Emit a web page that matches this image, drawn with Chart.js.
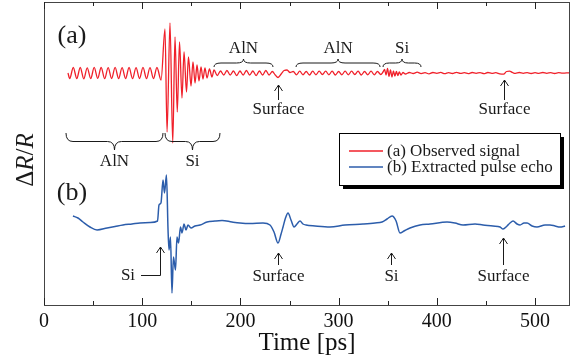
<!DOCTYPE html>
<html>
<head>
<meta charset="utf-8">
<script src="https://cdn.jsdelivr.net/npm/chart.js@4.4.1/dist/chart.umd.min.js"></script>
<style>
  html, body { margin: 0; padding: 0; background: #fff; }
  #wrap { width: 573px; height: 358px; }
</style>
</head>
<body>
<div id="wrap"><canvas id="grafico" width="573" height="358"></canvas></div>
<script>
// ===== DADOS =====
const seriesLabels = ['(a) Observed signal', '(b) Extracted pulse echo'];
const xTicks = [0, 100, 200, 300, 400, 500];

// (a) observed signal, time [ps] / ΔR/R (arb. units, relative to trace baseline)
const timeA = [
    24.4, 26.2, 29.8, 33.4, 36.9, 40.5, 44.0, 47.6, 51.1, 54.7, 58.2, 61.8, 65.3, 68.9, 72.4, 76.0,
    79.5, 83.1, 86.6, 90.2, 93.7, 97.3, 100.8, 104.4, 107.9, 111.5, 115.0, 119.2,
    123.2, 125.3, 128.3, 131.1, 133.4, 135.7, 138.0, 140.5, 142.6, 145.1, 147.1, 149.7, 151.7, 153.8,
    155.8, 157.8, 159.9, 161.9, 163.9, 166.0, 168.5, 171.1, 173.1,
    176.4, 179.7, 183.0, 186.3, 189.6, 192.9, 196.2, 199.5, 202.8, 206.1, 209.4, 212.7, 216.0, 219.3,
    222.6, 225.9, 229.2, 232.5, 235.5, 238.3, 241.5, 244.5, 247.5, 250.5,
    253.8, 257.1, 260.4, 263.7, 267.0, 270.3, 273.6, 276.9, 280.2, 283.5, 286.8, 290.1, 293.4, 296.7,
    300.0, 303.3, 306.6, 309.9, 313.2, 316.5, 319.8, 323.1, 326.4, 329.7, 333.0, 336.3, 339.6, 342.9,
    345.2, 346.8, 348.3, 349.8, 351.3, 352.8, 354.3, 355.8, 357.3, 358.8, 360.3, 361.8, 363.5, 365.5,
    368, 372, 376, 380, 384, 388, 392, 396, 400, 404, 408, 412, 416, 420, 424, 428, 432, 436, 440, 444,
    448, 452, 456, 460, 464, 468, 471, 474, 477, 480, 484, 488, 492, 496, 500, 504, 508, 512, 516, 520,
    524, 528, 532, 535.5
];
const signalA = [
    0, -5.5, 5.5, -5.5, 5.5, -5.8, 5.2, -5.6, 5.6, -5.4, 5.5, -5.7, 5.3, -5.5, 5.6, -5.6,
    5.4, -5.5, 5.5, -5.7, 5.3, -5.5, 5.6, -5.6, 5.4, -5.5, 5.5, -7,
    44, -59, 50, -70, 36, -39, 31, -25, 21, -19, 16, -13, 11, -10,
    8, -8, 6, -6, 5, -5, 4, -4, 3,
    -2.5, 2, -2, 2.5, -2, 2, -2.5, 2, -2, 2.5, -2, 2, -2.5, 2,
    -2, 2.5, -2, 1.5, -2, -4.5, -1, 2.5, 3, 0.5,
    1.5, -1.8, 1.8, -1.8, 1.5, -2, 1.8, -1.8, 1.8, -1.5, 1.8, -1.8, 1.8, -2,
    1.5, -1.8, 1.8, -1.8, 1.8, -1.5, 1.8, -2, 1.5, -1.8, 1.8, -1.8, 1.5, -1.5,
    1, 3.5, -2, 4.5, -3.5, 3, -4, 2, -3, 1.5, -2.5, 1, -2, 0.5,
    -1, 0.5, -0.5, 0.8, -0.6, 0.3, -0.8, 0.5, -0.3, 0.6, -0.7, 0.4, -0.5, 0.6, -0.4, 0.3, -0.6, 0.5, -0.3, 0.4,
    -0.6, 0.5, -0.4, 0.3, -0.8, -1.2, 1.5, 1.8, 0.5, -0.4, 0.5, -0.3, 0.4, -0.5, 0.3, -0.4, 0.5, -0.3, 0.4, -0.5,
    0.3, -0.2, 0.1, 0
];

// (b) extracted pulse echo
const timeB = [
    29.5, 34.6, 39.7, 46.8, 54.0, 64.2, 72.3, 80.4, 89.6, 97.8, 108.0, 115.6,
    117.1, 119.1, 121.2, 122.7, 124.7, 126.3, 127.3, 128.8, 130.3, 131.8, 133.9, 135.4, 137.0, 139.0,
    140.5, 142.6, 144.6, 146.6, 149.7, 153.8, 158.9, 166.0, 174.1, 181.3, 191.4, 199.6, 209.8,
    223.0, 230.1, 234.2, 238.3, 241.4, 243.4, 245.9, 248.5, 251.5, 254.6, 257.6, 260.7, 263.7, 266.8,
    276.0, 291.2, 306.5, 324.8, 337.1, 344.2, 349.3, 354.4, 358.5, 362.5, 366.6, 372.7, 382.9, 393.1,
    410.4, 418.5, 426.7, 438.9, 447.0, 457.2, 464.4, 467.4, 471.5, 474.5, 477.6, 481.7, 484.7, 488.8,
    491.9, 497.0, 502.0, 510.2, 515.3, 520.4, 525.5, 530.6
];
const echoB = [
    6, 4, 0, -5, -8, -6, -4.5, -3, -2, -1, -0.5, 1,
    17, 19, 42, 29, 47, -8, -28, -15, -71, -35, -48, -15, -21, -5,
    -11, -2, -8, -3, -6, -4, -3, 0, 1, 1.5, 0, -1, -1.5,
    -1, -3, -10, -21, -12, -5, 4, 9, 2, -5, -2, 1, -2, -3,
    -4, -5, -3, -2, -1, 0, 3, 6, 1, -11, -9, -6, -3, -2,
    0, -1, -3, -2, -3, -4, -5, -7, -4, -1, 1, -2, -3, -1,
    -1, -4, -5, -3, -3, -4, -5, -4
];

// deslocamento vertical de cada traço
const OFFSET_A = 232;
const OFFSET_B = 83;

// ===== ANOTAÇÕES (coordenadas em dados) =====
const panelLabels = [
    { t: 28.5, v: 269, text: '(a)' },
    { t: 28.5, v: 112, text: '(b)' }
];
const bracesUp = [
    { from: 173.1, to: 233.2, text: 'AlN' },
    { from: 256.6, to: 342.2, text: 'AlN' },
    { from: 345.2, to: 383.9, text: 'Si' }
];
const bracesDown = [
    { from: 22.4, to: 121.2, text: 'AlN' },
    { from: 123.2, to: 179.2, text: 'Si' }
];
const arrows = [
    { t: 238.3, head: 220, tail: 205, labelV: 195, text: 'Surface' },
    { t: 468.4, head: 225, tail: 205, labelV: 195, text: 'Surface' },
    { t: 238.3, head: 52, tail: 40, labelV: 28, text: 'Surface' },
    { t: 353.4, head: 52, tail: 40, labelV: 28, text: 'Si' },
    { t: 467.4, head: 67, tail: 40, labelV: 28, text: 'Surface' }
];
const bentArrow = { t: 118.1, head: 58, corner: 30, toT: 98.8, labelT: 85.5, labelV: 29, text: 'Si' };

// ===== ESTILO =====
const FONTE   = "'Liberation Serif', 'Times New Roman', serif";
const VERMELHO = '#f0202a';
const AZUL     = '#2c5dab';
const TINTA    = '#1a1a1a';

// ===== PLUGIN — moldura, ticks, legenda e anotações =====
function chave(ctx, x1, x2, yBase, yTip) {
    const xm = (x1 + x2) / 2;
    const yMid = (yBase + yTip) / 2;
    const r = Math.min(7, (x2 - x1) / 6);
    ctx.beginPath();
    ctx.moveTo(x1, yBase);
    ctx.quadraticCurveTo(x1, yMid, x1 + r, yMid);
    ctx.lineTo(xm - r, yMid);
    ctx.quadraticCurveTo(xm, yMid, xm, yTip);
    ctx.quadraticCurveTo(xm, yMid, xm + r, yMid);
    ctx.lineTo(x2 - r, yMid);
    ctx.quadraticCurveTo(x2, yMid, x2, yBase);
    ctx.stroke();
}

function seta(ctx, x, yHead, yTail) {
    ctx.beginPath();
    ctx.moveTo(x, yTail);
    ctx.lineTo(x, yHead);
    ctx.moveTo(x - 4, yHead + 6);
    ctx.lineTo(x, yHead);
    ctx.lineTo(x + 4, yHead + 6);
    ctx.stroke();
}

const anotacoes = {
    id: 'anotacoes',
    afterDraw(chart) {
        const { ctx, chartArea: a, scales: { x, y } } = chart;
        ctx.save();

        // moldura
        ctx.strokeStyle = '#444';
        ctx.lineWidth = 1;
        ctx.strokeRect(a.left + 0.5, a.top + 0.5, a.right - a.left - 1, a.bottom - a.top);

        // ticks para dentro (baixo e cima)
        ctx.strokeStyle = '#222';
        for (let v = 0; v <= x.max; v += 50) {
            const px = Math.round(x.getPixelForValue(v)) + 0.5;
            const len = v % 100 === 0 ? 7 : 4;
            ctx.beginPath();
            ctx.moveTo(px, a.bottom); ctx.lineTo(px, a.bottom - len);
            ctx.moveTo(px, a.top); ctx.lineTo(px, a.top + len);
            ctx.stroke();
        }

        ctx.fillStyle = TINTA;
        ctx.strokeStyle = TINTA;
        ctx.lineWidth = 1;
        ctx.textAlign = 'center';
        ctx.textBaseline = 'middle';

        // (a) e (b)
        ctx.font = `26px ${FONTE}`;
        panelLabels.forEach(p => ctx.fillText(p.text, x.getPixelForValue(p.t), y.getPixelForValue(p.v)));

        ctx.font = `17px ${FONTE}`;
        // chaves de cima (bico para cima)
        bracesUp.forEach(b => {
            chave(ctx, x.getPixelForValue(b.from), x.getPixelForValue(b.to), y.getPixelForValue(238), y.getPixelForValue(246));
            ctx.fillText(b.text, x.getPixelForValue((b.from + b.to) / 2), y.getPixelForValue(256));
        });
        // chaves de baixo (bico para baixo)
        bracesDown.forEach(b => {
            chave(ctx, x.getPixelForValue(b.from), x.getPixelForValue(b.to), y.getPixelForValue(172), y.getPixelForValue(155));
            ctx.fillText(b.text, x.getPixelForValue((b.from + b.to) / 2), y.getPixelForValue(143));
        });

        // setas
        arrows.forEach(s => {
            const px = Math.round(x.getPixelForValue(s.t)) + 0.5;
            seta(ctx, px, y.getPixelForValue(s.head), y.getPixelForValue(s.tail));
            ctx.fillText(s.text, px, y.getPixelForValue(s.labelV));
        });
        const bx = Math.round(x.getPixelForValue(bentArrow.t)) + 0.5;
        const by = Math.round(y.getPixelForValue(bentArrow.corner)) + 0.5;
        seta(ctx, bx, y.getPixelForValue(bentArrow.head), by);
        ctx.beginPath();
        ctx.moveTo(bx, by);
        ctx.lineTo(x.getPixelForValue(bentArrow.toT), by);
        ctx.stroke();
        ctx.fillText(bentArrow.text, x.getPixelForValue(bentArrow.labelT), y.getPixelForValue(bentArrow.labelV));

        // legenda
        const lx = 339, ly = 133, lw = 221, lh = 52;
        ctx.fillStyle = '#000';
        ctx.fillRect(lx + 4, ly + 4, lw, lh);
        ctx.fillStyle = '#fff';
        ctx.fillRect(lx, ly, lw, lh);
        ctx.strokeStyle = '#000';
        ctx.strokeRect(lx + 0.5, ly + 0.5, lw, lh);
        ctx.textAlign = 'left';
        chart.data.datasets.forEach((ds, i) => {
            const yy = ly + 18 + i * 16;
            ctx.strokeStyle = ds.borderColor;
            ctx.lineWidth = 1.5;
            ctx.beginPath();
            ctx.moveTo(lx + 10, yy); ctx.lineTo(lx + 44, yy);
            ctx.stroke();
            ctx.fillStyle = TINTA;
            ctx.fillText(ds.label, lx + 48, yy + 1);
        });

        // título do eixo y: ΔR/R
        ctx.translate(26, 160);
        ctx.rotate(-Math.PI / 2);
        const partes = [['Δ', ''], ['R', 'italic '], ['/', ''], ['R', 'italic ']];
        let total = 0;
        partes.forEach(([t, s]) => { ctx.font = `${s}25px ${FONTE}`; total += ctx.measureText(t).width; });
        let cx = -total / 2;
        ctx.fillStyle = TINTA;
        partes.forEach(([t, s]) => {
            ctx.font = `${s}25px ${FONTE}`;
            ctx.fillText(t, cx, 0);
            cx += ctx.measureText(t).width;
        });

        ctx.restore();
    }
};

// ===== GRÁFICO =====
const ctx = document.getElementById('grafico').getContext('2d');
new Chart(ctx, {
    type: 'line',
    data: {
        datasets: [
            {
                label: seriesLabels[0],
                data: timeA.map((t, i) => ({ x: t, y: signalA[i] + OFFSET_A })),
                borderColor: VERMELHO,
                borderWidth: 1.3,
                pointRadius: 0,
                cubicInterpolationMode: 'monotone'
            },
            {
                label: seriesLabels[1],
                data: timeB.map((t, i) => ({ x: t, y: echoB[i] + OFFSET_B })),
                borderColor: AZUL,
                borderWidth: 1.5,
                pointRadius: 0,
                cubicInterpolationMode: 'monotone'
            }
        ]
    },
    options: {
        responsive: false,
        devicePixelRatio: 1,
        animation: false,
        layout: { padding: { left: 44, right: 3, top: 2, bottom: 0 } },
        plugins: { legend: { display: false }, tooltip: { enabled: false } },
        scales: {
            x: {
                type: 'linear',
                min: 0,
                max: 535.6,
                afterFit: s => { s.height = 53; },
                afterBuildTicks: s => { s.ticks = xTicks.map(v => ({ value: v })); },
                grid: { display: false, drawTicks: false },
                border: { display: false },
                ticks: { color: '#111', padding: 5, font: { family: FONTE, size: 20 } },
                title: { display: true, text: 'Time [ps]', color: '#111', padding: { top: 0, bottom: 0 }, font: { family: FONTE, size: 25 } }
            },
            y: {
                display: false,
                min: 0,
                max: 303
            }
        }
    },
    plugins: [anotacoes]
});
</script>
</body>
</html>
